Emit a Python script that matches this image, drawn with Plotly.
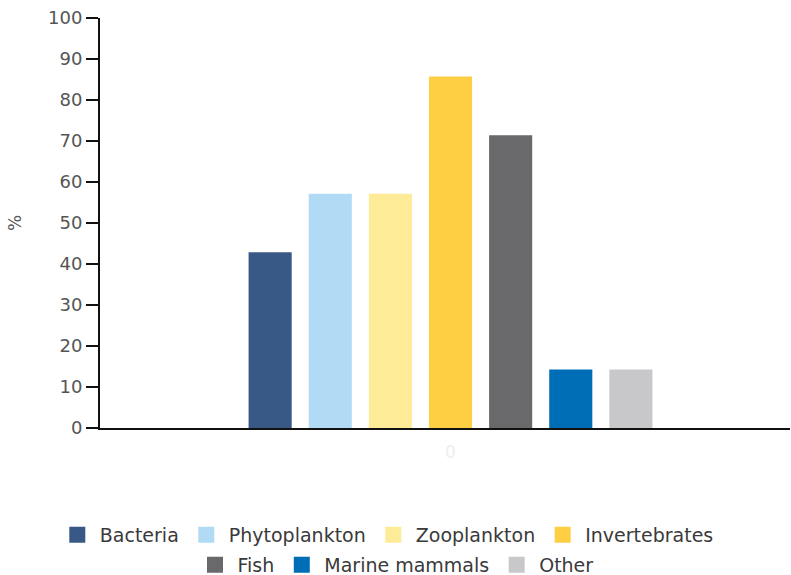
import plotly.graph_objects as go

categories = ["0"]
series_names = ["Bacteria", "Phytoplankton", "Zooplankton", "Invertebrates",
                "Fish", "Marine mammals", "Other"]
series_values = [42.86, 57.14, 57.14, 85.71, 71.43, 14.29, 14.29]
series_colors = ["#385886", "#b1dbf5", "#feeb98", "#fecf43",
                 "#69696b", "#006eb6", "#c8c8ca"]
legend_rows = ["legend", "legend", "legend", "legend", "legend2", "legend2", "legend2"]
y_ticks = [0, 10, 20, 30, 40, 50, 60, 70, 80, 90, 100]

FONT = "DejaVu Sans"
fig = go.Figure()
for name, val, col in zip(series_names, series_values, series_colors):
    fig.add_trace(go.Bar(x=categories, y=[val], name=name, marker_color=col,
                         marker_line_width=0, showlegend=False))
for name, col, lg in zip(series_names, series_colors, legend_rows):
    fig.add_trace(go.Scatter(x=[None], y=[None], name=name, mode="markers",
                             marker=dict(symbol="square", size=20, color=col),
                             legend=lg, showlegend=True, hoverinfo="skip"))

leg_common = dict(orientation="h", xanchor="center", xref="container",
                  yanchor="top", yref="container", itemwidth=35,
                  font=dict(family=FONT, size=19, color="#3a3a3a"),
                  itemsizing="trace", bgcolor="rgba(0,0,0,0)", traceorder="normal")
fig.update_layout(
    width=791, height=575,
    margin=dict(l=100, r=1, t=18, b=147, autoexpand=False),
    paper_bgcolor="white", plot_bgcolor="white",
    barmode="group", bargap=0.39, bargroupgap=0.283,
    font=dict(family=FONT, color="#555555"),
    legend=dict(x=0.489, y=0.1026, **leg_common),
    legend2=dict(x=0.5, y=0.0504, **leg_common),
    xaxis=dict(type="category", range=[-0.508, 0.492],
               showline=True, linecolor="#111111", linewidth=2,
               ticks="", showgrid=False, zeroline=False, automargin=False,
               ticklabelstandoff=8,
               tickfont=dict(family=FONT, size=17, color="#eeeeee")),
    yaxis=dict(range=[0, 100], tickvals=y_ticks, showline=True, linecolor="#111111",
               linewidth=2, ticks="outside", ticklen=12, tickwidth=2, tickcolor="#111111",
               showgrid=False, zeroline=False, automargin=False,
               tickfont=dict(family=FONT, size=18, color="#555555"),
               title=dict(text="%", font=dict(family=FONT, size=17, color="#555555"), standoff=22)),
)
fig.write_html("out.html", post_script="document.body.style.margin='0';",
               config={"displayModeBar": False})
